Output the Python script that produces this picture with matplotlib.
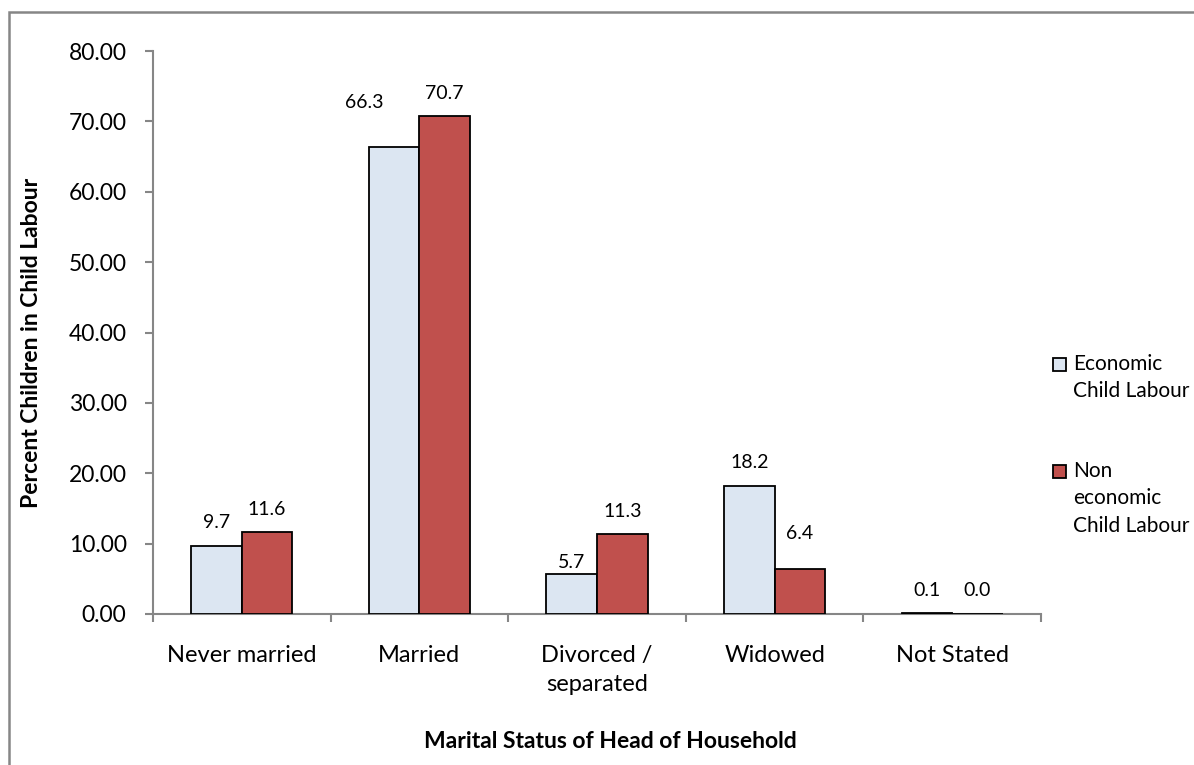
import matplotlib
matplotlib.use("Agg")
import matplotlib.pyplot as plt
from matplotlib.patches import Rectangle
import numpy as np

categories = ["Never married", "Married", "Divorced /\nseparated", "Widowed", "Not Stated"]
economic = [9.7, 66.3, 5.7, 18.2, 0.1]
non_economic = [11.6, 70.7, 11.3, 6.4, 0.0]
series_names = ["Economic\nChild Labour", "Non\neconomic\nChild Labour"]
yticks = [0, 10, 20, 30, 40, 50, 60, 70, 80]

# label placement tweaks (pixels), keyed by (series, category index)
label_shift = {(0, 1): (-30, 45), (0, 2): (0, 11), (1, 3): (0, 35)}

plt.rcParams['font.family'] = ['Lato', 'DejaVu Sans']

fig = plt.figure(figsize=(11.94, 7.65), dpi=100)
ax = fig.add_axes([153/1194, 1-614/765, (1041-153)/1194, (614-51)/765])

gray = '#868686'
x = np.arange(len(categories))
w = 0.285
c1, c2 = '#DCE6F2', '#C0504D'
b1 = ax.bar(x - w/2, economic, w, color=c1, edgecolor='black', linewidth=1.3, zorder=3)
b2 = ax.bar(x + w/2, non_economic, w, color=c2, edgecolor='black', linewidth=1.3, zorder=3)
for si, (bars, vals) in enumerate(((b1, economic), (b2, non_economic))):
    for ci, (r, v) in enumerate(zip(bars, vals)):
        dx, dy = label_shift.get((si, ci), (0, 23))
        ax.annotate(f"{v:.1f}", (r.get_x() + r.get_width()/2, v), xytext=(dx, dy),
                    textcoords='offset pixels', ha='center', va='center', fontsize=14)

ax.set_xlim(-0.5, len(categories) - 0.5)
ax.set_ylim(0, 80)
ax.set_yticks(yticks)
ax.set_yticklabels([f"{t:.2f}" for t in yticks], fontsize=16.5)
ax.set_xticks(np.arange(len(categories) + 1) - 0.5)
ax.set_xticklabels([])
ax.set_xticks(x, minor=True)
ax.set_xticklabels(categories, minor=True, fontsize=17, linespacing=1.5)
ax.tick_params(axis='x', which='major', length=6, color=gray, width=1.5, direction='out')
ax.tick_params(axis='x', which='minor', length=0, pad=22)
ax.tick_params(axis='y', length=6, color=gray, width=1.5, direction='out', pad=13)
for s in ('top', 'right'):
    ax.spines[s].set_visible(False)
for s in ('left', 'bottom'):
    ax.spines[s].set_color(gray)
    ax.spines[s].set_linewidth(1.5)

fig.text(32/1194, 1-343/765, "Percent Children in Child Labour", fontsize=16.5,
         fontweight='bold', rotation=90, ha='center', va='center')
fig.text(610/1194, 1-742/765, "Marital Status of Head of Household", fontsize=16.5,
         fontweight='bold', ha='center', va='center')

# legend (drawn manually to match wrapped entries)
leg_colors = [c1, c2]
leg_tops = [364, 471]
line_gap = 27.5
for name, col, ytop in zip(series_names, leg_colors, leg_tops):
    fig.patches.append(Rectangle((1053/1194, 1-(ytop+7)/765), 13/1194, 13/765,
                                 transform=fig.transFigure, facecolor=col,
                                 edgecolor='black', linewidth=1.3))
    for k, line in enumerate(name.split("\n")):
        fig.text(1073/1194, 1-(ytop + k*line_gap)/765, line, fontsize=15,
                 ha='left', va='center')

fig.patches.append(Rectangle((9/1194, -0.02), 1.2, 1 - 12/765 + 0.02, transform=fig.transFigure,
                             fill=False, edgecolor=gray, linewidth=1.8))

fig.savefig("out.png", dpi=100)
